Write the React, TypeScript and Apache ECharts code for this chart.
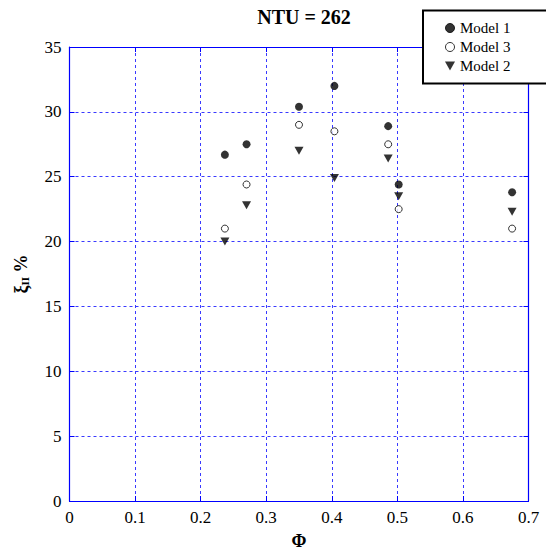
import React, { useEffect, useRef } from "react";
import * as echarts from "echarts";

const title = "NTU = 262";
const xTicksMin = 0;
const xTicksMax = 0.7;
const yTicksMin = 0;
const yTicksMax = 35;

const model1X = [0.237, 0.27, 0.35, 0.404, 0.486, 0.502, 0.675];
const model1Y = [26.7, 27.5, 30.4, 32.0, 28.9, 24.4, 23.8];
const model3X = [0.237, 0.27, 0.35, 0.404, 0.486, 0.502, 0.675];
const model3Y = [21.0, 24.4, 29.0, 28.5, 27.5, 22.5, 21.0];
const model2X = [0.237, 0.27, 0.35, 0.404, 0.486, 0.502, 0.675];
const model2Y = [20.0, 22.8, 27.0, 24.9, 26.4, 23.5, 22.3];

const FONT = "'Liberation Serif', 'Times New Roman', serif";
const BLUE = "#0000ff";
const GRID_BLUE = "#3a3aff";

const zip = (xs: number[], ys: number[]) => xs.map((x, i) => [x, ys[i]]);

export default function App() {
  const ref = useRef<HTMLDivElement>(null);
  useEffect(() => {
    if (!ref.current) return;
    const chart = echarts.init(ref.current, undefined, { renderer: "svg" });
    const axisCommon = {
      axisLine: { show: true, onZero: false, lineStyle: { color: BLUE, width: 1.2 } },
      axisTick: { show: true, inside: true, length: 5, lineStyle: { color: BLUE, width: 1 } },
      axisLabel: { color: "#000", fontFamily: FONT, fontSize: 17, margin: 8 },
      splitLine: { show: false },
    };
    chart.setOption({
      animation: false,
      backgroundColor: "#fff",
      textStyle: { fontFamily: FONT },
      title: {
        text: title,
        left: 299,
        top: 2,
        textAlign: "center",
        textStyle: { fontFamily: FONT, fontWeight: "bold", fontSize: 20, color: "#000" },
      },
      legend: {
        orient: "vertical",
        left: 423,
        top: 10.5,
        padding: [10, 40, 10, 22],
        itemGap: 4,
        itemWidth: 10,
        itemHeight: 9,
        itemStyle: { borderWidth: 1 },
        borderColor: "#000",
        borderWidth: 2,
        backgroundColor: "#fff",
        data: ["Model 1", "Model 3", "Model 2"],
        textStyle: { fontFamily: FONT, fontSize: 15, color: "#000", lineHeight: 15 },
      },
      grid: { left: 69.5, right: 17.5, top: 47, bottom: 49.5 },
      xAxis: [
        {
          ...axisCommon,
          type: "value",
          min: xTicksMin,
          max: xTicksMax,
          interval: 0.1,
          position: "bottom",
          name: "Φ",
          nameLocation: "middle",
          nameGap: 31,
          nameTextStyle: { fontFamily: FONT, fontWeight: "bold", fontSize: 18, color: "#000" },
          splitLine: { show: true, lineStyle: { color: GRID_BLUE, type: [3, 3], width: 1 } },
        },
        {
          ...axisCommon,
          type: "value",
          min: xTicksMin,
          max: xTicksMax,
          interval: 0.1,
          position: "top",
          axisLabel: { show: false },
        },
      ],
      yAxis: [
        {
          ...axisCommon,
          type: "value",
          min: yTicksMin,
          max: yTicksMax,
          interval: 5,
          position: "left",
          name: "{g|ξ}{s|II} {g|%}",
          nameLocation: "middle",
          nameRotate: 90,
          nameGap: 39,
          nameTextStyle: {
            fontFamily: FONT,
            fontWeight: "bold",
            fontSize: 18,
            color: "#000",
            rich: {
              g: { fontFamily: FONT, fontWeight: "bold", fontSize: 18, color: "#000" },
              s: { fontFamily: FONT, fontWeight: "bold", fontSize: 11, color: "#000", padding: [8, 0, 0, 0] },
            },
          },
          splitLine: { show: true, lineStyle: { color: GRID_BLUE, type: [3, 3], width: 1 } },
        },
        {
          ...axisCommon,
          type: "value",
          min: yTicksMin,
          max: yTicksMax,
          interval: 5,
          position: "right",
          axisLabel: { show: false },
        },
      ],
      series: [
        {
          name: "Model 1",
          type: "scatter",
          data: zip(model1X, model1Y),
          symbol: "circle",
          symbolSize: 8,
          itemStyle: { color: "#000", borderColor: "#000", borderWidth: 0 },
          z: 5,
        },
        {
          name: "Model 3",
          type: "scatter",
          data: zip(model3X, model3Y),
          symbol: "circle",
          symbolSize: 7,
          itemStyle: { color: "#fff", borderColor: "#000", borderWidth: 1 },
          z: 5,
        },
        {
          name: "Model 2",
          type: "scatter",
          data: zip(model2X, model2Y),
          symbol: "path://M0,0L10,0L5,9Z",
          symbolSize: [9, 8],
          itemStyle: { color: "#000", borderWidth: 0 },
          z: 5,
        },
      ],
    });
    return () => chart.dispose();
  }, []);
  return (
    <div
      ref={ref}
      style={{ position: "fixed", left: 0, top: 0, width: 546, height: 555 }}
    />
  );
}
